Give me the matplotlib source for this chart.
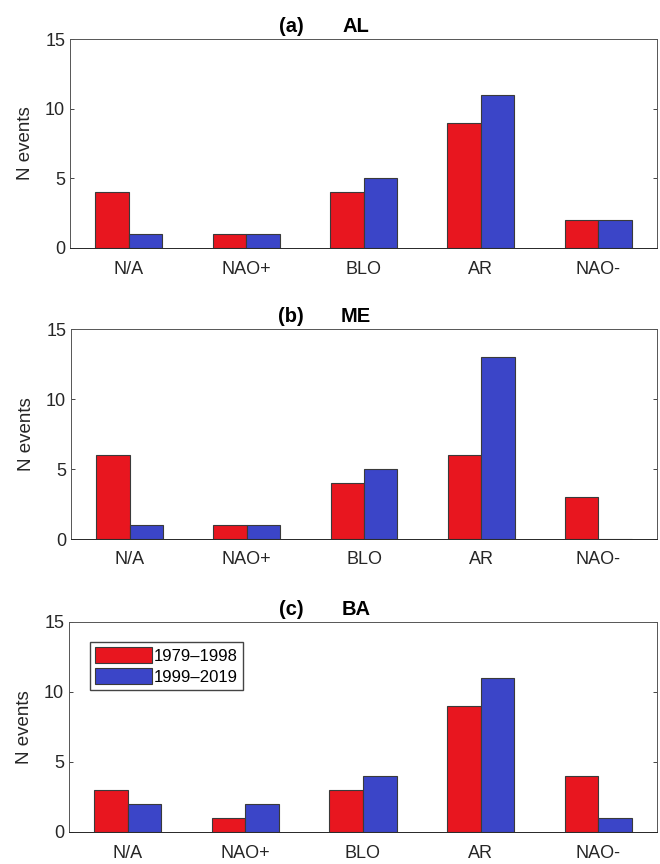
import matplotlib.pyplot as plt
import numpy as np

# ── Data ────────────────────────────────────────────────
categories = ["N/A", "NAO+", "BLO", "AR", "NAO-"]
periods = ["1979\u20131998", "1999\u20132019"]

al_early = [4, 1, 4, 9, 2]
al_late = [1, 1, 5, 11, 2]
me_early = [6, 1, 4, 6, 3]
me_late = [1, 1, 5, 13, 0]
ba_early = [3, 1, 3, 9, 4]
ba_late = [2, 2, 4, 11, 1]

panels = [
    ("(a)", "AL", al_early, al_late),
    ("(b)", "ME", me_early, me_late),
    ("(c)", "BA", ba_early, ba_late),
]

# ── Style ───────────────────────────────────────────────
RED = "#E8161F"
BLUE = "#3B45C8"
EDGE = "#3a3a3a"
AXC = "#555555"

plt.rcParams.update({
    "font.family": "Liberation Sans",
    "font.size": 12,
})

fig = plt.figure(figsize=(6.6, 8.64), dpi=100)
W, H = 660, 864
# axes boxes in pixels: (left, top, right, bottom)
boxes = [(70, 39, 657, 248), (71, 329, 657, 539), (69, 622, 657, 832)]

x = np.arange(1, len(categories) + 1)
width = 0.285

for (tag, name, early, late), (l, t, r, b) in zip(panels, boxes):
    ax = fig.add_axes([l / W, 1 - b / H, (r - l) / W, (b - t) / H])
    ax.bar(x - width / 2, early, width, color=RED, edgecolor=EDGE, linewidth=0.8,
           label=periods[0])
    ax.bar(x + width / 2, late, width, color=BLUE, edgecolor=EDGE, linewidth=0.8,
           label=periods[1])
    ax.set_xlim(0.5, 5.5)
    ax.set_ylim(0, 15)
    ax.set_yticks([0, 5, 10, 15])
    ax.set_xticks(x)
    ax.set_xticklabels(categories)
    ax.tick_params(direction="in", top=True, right=True, length=3, width=0.6,
                   colors="#262626", labelsize=13)
    ax.tick_params(axis="x", length=0, pad=9)
    for s in ax.spines.values():
        s.set_color(AXC)
        s.set_linewidth(0.7)
    ax.spines["bottom"].set_color("#262626")
    ax.set_ylabel("N events", fontsize=13.5, color="#262626", labelpad=8)
    # panel title: tag and region name set apart, as in the original
    ax.annotate(tag, xy=((291 - l) / (r - l), 1), xycoords="axes fraction",
                xytext=(0, 5), textcoords="offset points", ha="center",
                va="baseline", fontweight="bold", fontsize=14.5)
    ax.annotate(name, xy=((356 - l) / (r - l), 1), xycoords="axes fraction",
                xytext=(0, 5), textcoords="offset points", ha="center",
                va="baseline", fontweight="bold", fontsize=14.5)

ax.legend(loc="upper left", bbox_to_anchor=(21 / 588, 1 - 20 / 210), fancybox=False,
          edgecolor="#444444", framealpha=1, handlelength=3.4, handleheight=1.1,
          handletextpad=0.15, borderpad=0.3, labelspacing=0.25, fontsize=12,
          borderaxespad=0)

plt.savefig("out.png", dpi=100)
plt.close()
